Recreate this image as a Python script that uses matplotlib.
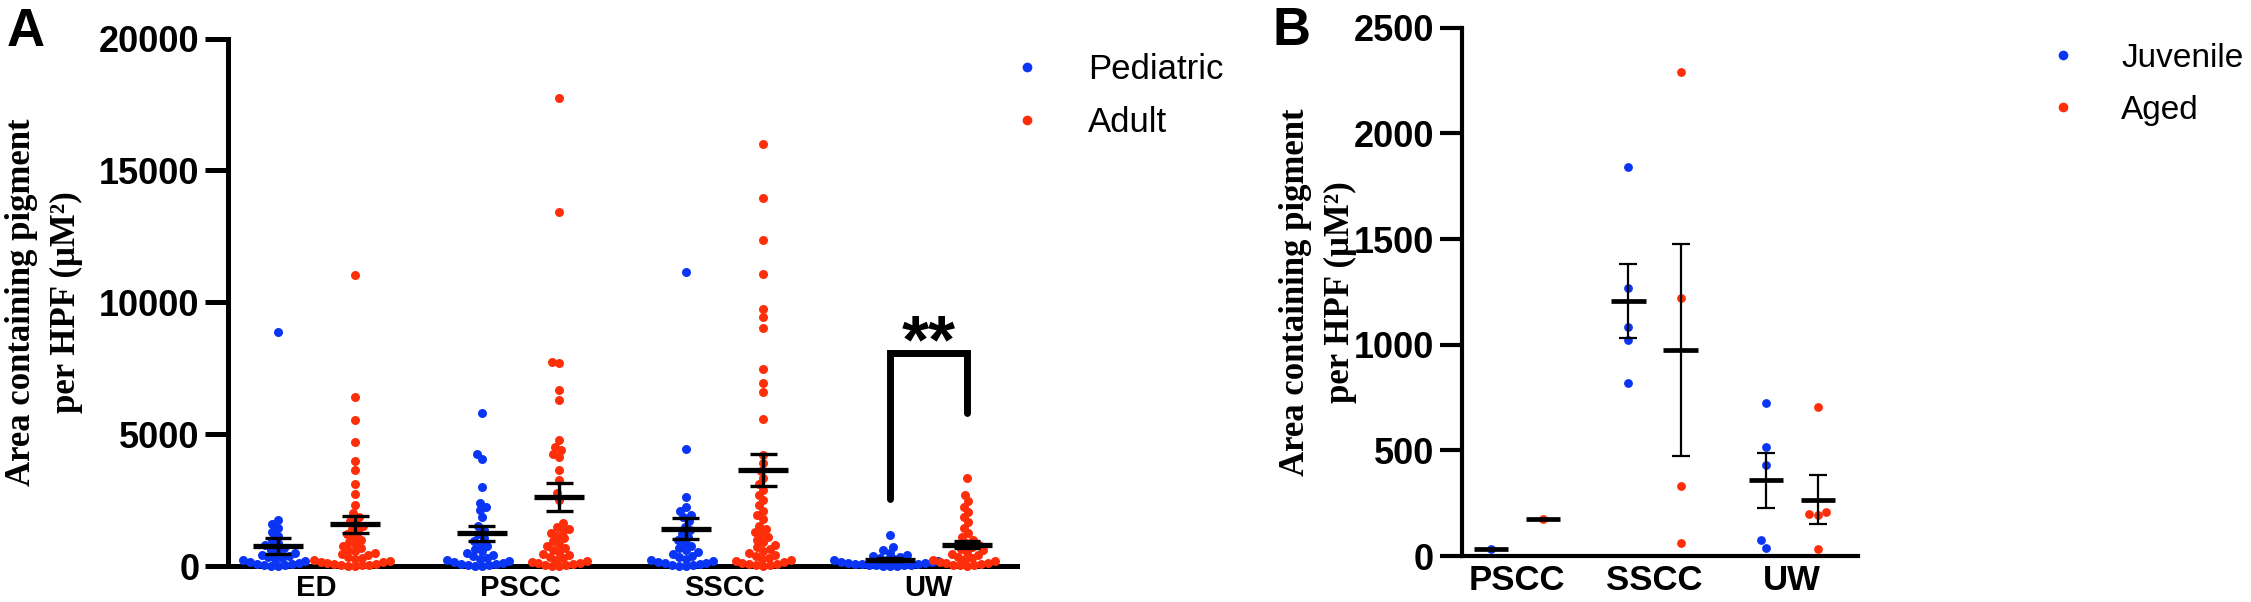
import numpy as np
import matplotlib
matplotlib.use("Agg")
import matplotlib.pyplot as plt
from matplotlib.lines import Line2D

plt.rcParams["font.family"] = ["Liberation Sans", "DejaVu Sans"]

BLUE = "#0A35F5"
RED = "#FF2E0A"

# ---------------- panel A data (um^2 per HPF) ----------------
cats_a = ["ED", "PSCC", "SSCC", "UW"]
ed_ped = [8885, 1744, 1600, 1450, 1300, 1150, 1000, 880, 780, 700, 620, 550, 490, 430,
          380, 330, 290, 250, 210, 175, 140, 110, 85, 60, 40, 25, 15, 5]
ed_adult = [11050, 6420, 5535, 4713, 3981, 3640, 3097, 2718, 2313, 1997, 1850, 1720, 1600,
            1500, 1400, 1300, 1200, 1100, 1000, 920, 840, 760, 690, 620, 560, 500, 450, 400,
            350, 310, 270, 235, 200, 170, 140, 115, 90, 70, 50, 35, 20, 10, 5]
pscc_ped = [5813, 4246, 4045, 2983, 2400, 2250, 2123, 1870, 1500, 1350, 1200, 1080, 960,
            850, 750, 660, 580, 500, 430, 370, 310, 260, 215, 175, 140, 110, 80, 60, 40, 25,
            12, 5]
pscc_adult = [17755, 13405, 7720, 7680, 6673, 6294, 4777, 4520, 4398, 4250, 4146, 3640, 3260,
              2750, 2500, 1630, 1490, 1400, 1320, 1240, 1150, 1050, 950, 850, 760, 680, 600,
              530, 460, 400, 340, 290, 240, 200, 160, 125, 95, 70, 50, 30, 15, 5]
sscc_ped = [11160, 4424, 2603, 2249, 2100, 1950, 1870, 1700, 1490, 1350, 1220, 1100, 980,
            870, 770, 680, 600, 520, 450, 390, 330, 280, 235, 195, 160, 125, 95, 70, 45, 25,
            12, 5]
sscc_adult = [15990, 13940, 12360, 11070, 9733, 9450, 9010, 7457, 6951, 6610, 5560, 4200, 3900,
              3600, 3350, 3100, 2900, 2700, 2500, 2300, 2100, 1950, 1800, 1500, 1400, 1300,
              1200, 1100, 1000, 900, 800, 710, 630, 560, 490, 430, 370, 320, 270, 225, 185,
              150, 115, 85, 60, 40, 20, 8]
uw_ped = [1175, 733, 600, 500, 430, 380, 340, 300, 270, 240, 210, 185, 160, 140, 120, 100,
          85, 70, 58, 46, 36, 27, 19, 12, 6, 2]
uw_adult = [3324, 2692, 2450, 2250, 2050, 1850, 1650, 1450, 1250, 1100, 980, 880, 800, 720,
            650, 590, 520, 460, 400, 350, 300, 260, 220, 185, 150, 120, 95, 70, 50, 35, 20, 8]

mean_ped = [770, 1238, 1415, 240]
sem_ped = [297, 285, 405, 50]
mean_adult = [1580, 2628, 3640, 810]
sem_adult = [310, 525, 620, 125]

bracket_y = [2528, 8063, 8063, 5790]
star_y = 7735

# ---------------- panel B data ----------------
cats_b = ["PSCC", "SSCC", "UW"]
juv = [[35], [1840, 1268, 1082, 1023, 817], [725, 517, 429, 77, 40]]
aged = [[175], [2290, 1219, 329, 61], [707, 210, 192, 197, 31]]

W, H = 2251, 602
fig = plt.figure(figsize=(W / 100, H / 100), dpi=100)

axA = fig.add_axes([228 / W, 1 - 566 / H, (1017 - 228) / W, (566 - 38.5) / H])
axB = fig.add_axes([1462 / W, 1 - 556 / H, (1858 - 1462) / W, (556 - 27.8) / H])


def swarm(vals, d):
    # beeswarm offsets (pixels) for values given in pixels
    order = np.argsort(vals, kind="stable")
    placed = []
    out = np.zeros(len(vals))
    for i in order:
        y = vals[i]
        near = [(px, py) for px, py in placed if abs(py - y) < d]
        cands = [0.0]
        for px, py in near:
            dx = np.sqrt(d * d - (py - y) ** 2)
            cands += [px + dx, px - dx]
        cands.sort(key=lambda c: (round(abs(c), 6), c))
        best = 0.0
        for c in cands:
            if all((c - px) ** 2 + (y - py) ** 2 >= d * d - 1e-6 for px, py in near):
                best = c
                break
        out[i] = best
        placed.append((best, y))
    return out


def px_scales(ax):
    pos = ax.get_position()
    x0, x1 = ax.get_xlim()
    y0, y1 = ax.get_ylim()
    sx = pos.width * W / (x1 - x0)
    sy = pos.height * H / (y1 - y0)
    return sx, sy


def draw_group(ax, xc, vals, color, d, size):
    sx, sy = px_scales(ax)
    v = np.asarray(vals, dtype=float)
    off = swarm(v * sy, d) / sx
    ax.scatter(xc + off, v, s=size, color=color, linewidths=0, clip_on=False, zorder=3)


def draw_mean(ax, xc, m, s, half_m, half_c, lw_m, lw_e):
    ax.hlines(m, xc - half_m, xc + half_m, color="k", lw=lw_m, zorder=4, clip_on=False)
    if s > 0:
        ax.vlines(xc, m - s, m + s, color="k", lw=lw_e, zorder=4)
        ax.hlines([m - s, m + s], xc - half_c, xc + half_c, color="k", lw=lw_e, zorder=4)


def style_axis(ax, lw, ticklen, ylab_size, xlab_size):
    for s in ["top", "right"]:
        ax.spines[s].set_visible(False)
    for s in ["left", "bottom"]:
        ax.spines[s].set_linewidth(lw)
        ax.spines[s].set_zorder(2.5)
    ax.tick_params(axis="y", length=ticklen, width=lw, labelsize=ylab_size, pad=4)
    ax.tick_params(axis="x", length=0, labelsize=xlab_size, pad=6)
    for lab in ax.get_xticklabels() + ax.get_yticklabels():
        lab.set_fontweight("bold")


off = 0.19

# ---------------- panel A ----------------
axA.set_xlim(-0.434, 3.434)
axA.set_ylim(0, 20000)
axA.set_yticks([0, 5000, 10000, 15000, 20000])
axA.set_xticks(range(len(cats_a)))
axA.set_xticklabels(cats_a)
style_axis(axA, 3.6, 16.5, 26, 21)

groups_ped = [ed_ped, pscc_ped, sscc_ped, uw_ped]
groups_adult = [ed_adult, pscc_adult, sscc_adult, uw_adult]
for i in range(len(cats_a)):
    draw_group(axA, i - off, groups_ped[i], BLUE, 7.0, 42)
    draw_group(axA, i + off, groups_adult[i], RED, 7.0, 42)
    draw_mean(axA, i - off, mean_ped[i], sem_ped[i], 0.123, 0.065, 3.8, 2.4)
    draw_mean(axA, i + off, mean_adult[i], sem_adult[i], 0.123, 0.065, 3.8, 2.4)

axA.plot([3 - off, 3 - off, 3 + off, 3 + off], bracket_y, color="k", lw=5,
         solid_capstyle="round", solid_joinstyle="miter", zorder=4)
axA.text(3, star_y, "**", ha="center", va="baseline", fontsize=50, fontweight="bold")

# ---------------- panel B ----------------
axB.set_xlim(-0.40, 2.48)
axB.set_ylim(0, 2500)
axB.set_yticks([0, 500, 1000, 1500, 2000, 2500])
axB.set_xticks(range(len(cats_b)))
axB.set_xticklabels(cats_b)
style_axis(axB, 3.0, 16, 26, 25)

for i in range(len(cats_b)):
    for xc, vals, col in [(i - off, juv[i], BLUE), (i + off, aged[i], RED)]:
        draw_group(axB, xc, vals, col, 9.0, 40)
        v = np.asarray(vals, dtype=float)
        sem = v.std(ddof=1) / np.sqrt(len(v)) if len(v) > 1 else 0
        draw_mean(axB, xc, v.mean(), sem, 0.125, 0.065, 3.4, 1.6)

# ---------------- text ----------------
ylab = "Area containing pigment\nper HPF (\u03bcM\u00b2)"
fig.text(44 / W, 1 - 302 / H, ylab, rotation=90, ha="center", va="center", ma="center",
         family="Liberation Serif", fontweight="bold", fontsize=25, linespacing=1.5)
fig.text(1318 / W, 1 - 292 / H, ylab, rotation=90, ha="center", va="center", ma="center",
         family="Liberation Serif", fontweight="bold", fontsize=25, linespacing=1.5)

fig.text(7 / W, 1 - 46 / H, "A", fontsize=38, fontweight="bold", va="baseline")
fig.text(1272 / W, 1 - 45 / H, "B", fontsize=38, fontweight="bold", va="baseline")


def legend(ax, labels, x0, ytop, fs, ls):
    handles = [Line2D([], [], marker="o", ls="none", color=BLUE, ms=7, mew=0),
               Line2D([], [], marker="o", ls="none", color=RED, ms=7, mew=0)]
    ax.legend(handles, labels, loc="upper left", bbox_to_anchor=(x0 / W, 1 - ytop / H),
              bbox_transform=fig.transFigure, frameon=False, fontsize=fs,
              handlelength=0.6, handletextpad=1.45, labelspacing=ls,
              borderpad=0, borderaxespad=0)


legend(axA, ["Pediatric", "Adult"], 1017, 53, 25, 0.59)
legend(axB, ["Juvenile", "Aged"], 2053, 43, 24, 0.62)

fig.savefig("out.png", dpi=100)
